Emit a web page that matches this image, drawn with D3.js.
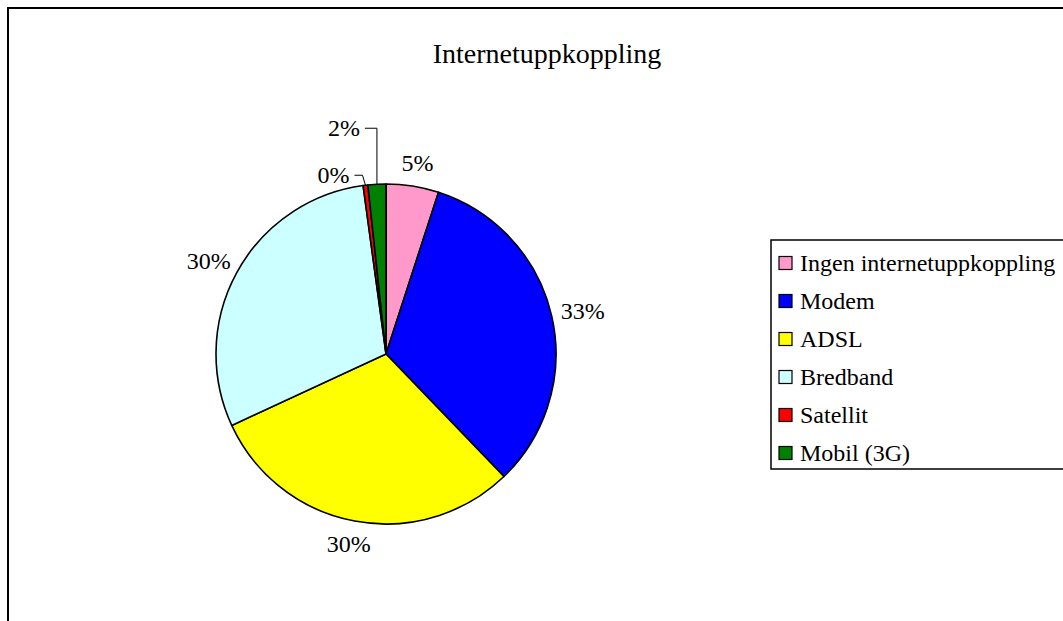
<!DOCTYPE html>
<html>
<head>
<meta charset="utf-8">
<script src="https://cdn.jsdelivr.net/npm/d3@7"></script>
<style>
  html, body { margin: 0; padding: 0; background: #fff; }
  svg { display: block; font-family: "Liberation Serif", "Times New Roman", serif; }
</style>
</head>
<body>
<svg id="chart" width="1063" height="621"></svg>
<script>
// Internet connection types, share of respondents (%)
const categories = ["Ingen internetuppkoppling", "Modem", "ADSL", "Bredband", "Satellit", "Mobil (3G)"];
const shares = [5.0, 32.8, 30.3, 29.75, 0.45, 1.7];
const colors = ["#FF99CC", "#0000FF", "#FFFF00", "#CCFFFF", "#FF0000", "#008000"];
const title = "Internetuppkoppling";

const W = 1063, H = 621;
const svg = d3.select("#chart");

// frame
svg.append("rect")
  .attr("x", 8).attr("y", 8).attr("width", W).attr("height", H)
  .attr("fill", "#fff").attr("stroke", "#000").attr("stroke-width", 2);

svg.append("text")
  .attr("x", 547).attr("y", 63)
  .attr("text-anchor", "middle")
  .attr("font-size", 28)
  .text(title);

// pie
const cx = 386, cy = 354, r = 170;
const data = categories.map((c, i) => ({ name: c, value: shares[i], color: colors[i] }));
const total = d3.sum(shares);
const pie = d3.pie().value(d => d.value).sort(null);
const arc = d3.arc().innerRadius(0).outerRadius(r);
const arcs = pie(data);

const g = svg.append("g").attr("transform", `translate(${cx},${cy})`);
g.selectAll("path.slice")
  .data(arcs)
  .join("path")
  .attr("class", "slice")
  .attr("d", arc)
  .attr("fill", d => d.data.color)
  .attr("stroke", "#000")
  .attr("stroke-width", 1.6)
  .attr("stroke-linejoin", "round");

// percentage labels
const fmt = v => Math.round(v / total * 100) + "%";
const fontSize = 24;
// small slices get a leader line rising above the rim and turning left
const leaderRise = { "Satellit": 10, "Mobil (3G)": 56 };
const leaderRun = { "Satellit": 11, "Mobil (3G)": 12 };

arcs.forEach(a => {
  const mid = (a.startAngle + a.endAngle) / 2;
  const sx = Math.sin(mid), sy = -Math.cos(mid);
  const label = fmt(a.data.value);
  if (leaderRise[a.data.name] !== undefined) {
    const px = r * sx, py = r * sy;
    const ty = py - leaderRise[a.data.name];
    const tx = px - leaderRun[a.data.name];
    const elbowX = a.data.name === "Satellit" ? px - 3 : px;
    g.append("path")
      .attr("d", `M${px},${py}L${elbowX},${ty}L${tx},${ty}`)
      .attr("fill", "none").attr("stroke", "#000").attr("stroke-width", 1);
    g.append("text")
      .attr("x", tx - 5).attr("y", ty + 8)
      .attr("text-anchor", "end")
      .attr("font-size", fontSize)
      .text(label);
  } else {
    const d0 = r + 12;
    const hw = 20, hh = 11;
    const x = d0 * sx + hw * sx;
    const y = d0 * sy + hh * sy;
    g.append("text")
      .attr("x", x).attr("y", y + 8)
      .attr("text-anchor", "middle")
      .attr("font-size", fontSize)
      .text(label);
  }
});

// legend
const lg = svg.append("g");
lg.append("rect")
  .attr("x", 771).attr("y", 240).attr("width", 320).attr("height", 229)
  .attr("fill", "#fff").attr("stroke", "#000").attr("stroke-width", 1.5);

const rowY = d3.scalePoint().domain(categories).range([263, 453]);
const items = lg.selectAll("g.item").data(data).join("g")
  .attr("class", "item")
  .attr("transform", d => `translate(779,${rowY(d.name)})`);
items.append("rect")
  .attr("x", 0).attr("y", -6.5).attr("width", 13).attr("height", 13)
  .attr("fill", d => d.color).attr("stroke", "#000").attr("stroke-width", 1.2);
items.append("text")
  .attr("x", 21).attr("y", 8)
  .attr("font-size", fontSize)
  .text(d => d.name);
</script>
</body>
</html>
